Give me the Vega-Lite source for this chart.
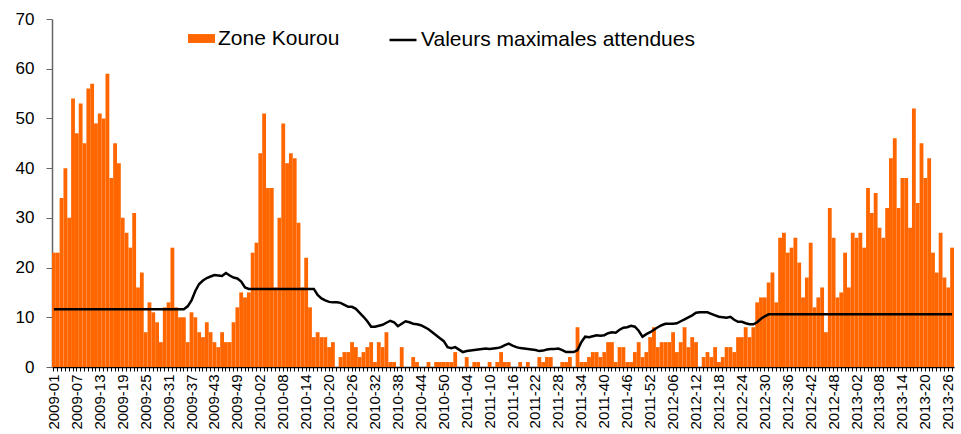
{
  "$schema": "https://vega.github.io/schema/vega-lite/v6.json",
  "autosize": {"type": "none"},
  "padding": {"left": 52, "top": 19, "right": 7, "bottom": 67},
  "width": 902,
  "height": 348,
  "config": {"font": "Liberation Sans", "view": {"stroke": null}},
  "data": {"values": [
    {"w":"2009-01","c":23,"m":11.6},{"w":"2009-02","c":23,"m":11.6},{"w":"2009-03","c":34,"m":11.6},{"w":"2009-04","c":40,"m":11.6},{"w":"2009-05","c":30,"m":11.6},
    {"w":"2009-06","c":54,"m":11.6},{"w":"2009-07","c":47,"m":11.6},{"w":"2009-08","c":53,"m":11.6},{"w":"2009-09","c":45,"m":11.6},{"w":"2009-10","c":56,"m":11.6},
    {"w":"2009-11","c":57,"m":11.6},{"w":"2009-12","c":49,"m":11.6},{"w":"2009-13","c":51,"m":11.6},{"w":"2009-14","c":50,"m":11.6},{"w":"2009-15","c":59,"m":11.6},
    {"w":"2009-16","c":38,"m":11.6},{"w":"2009-17","c":45,"m":11.6},{"w":"2009-18","c":41,"m":11.6},{"w":"2009-19","c":30,"m":11.6},{"w":"2009-20","c":27,"m":11.6},
    {"w":"2009-21","c":24,"m":11.6},{"w":"2009-22","c":31,"m":11.6},{"w":"2009-23","c":16,"m":11.6},{"w":"2009-24","c":19,"m":11.6},{"w":"2009-25","c":7,"m":11.6},
    {"w":"2009-26","c":13,"m":11.6},{"w":"2009-27","c":11,"m":11.6},{"w":"2009-28","c":9,"m":11.6},{"w":"2009-29","c":5,"m":11.6},{"w":"2009-30","c":12,"m":11.6},
    {"w":"2009-31","c":13,"m":11.6},{"w":"2009-32","c":24,"m":11.6},{"w":"2009-33","c":12,"m":11.6},{"w":"2009-34","c":10,"m":11.6},{"w":"2009-35","c":10,"m":11.6},
    {"w":"2009-36","c":5,"m":12.2},{"w":"2009-37","c":11,"m":13.4},{"w":"2009-38","c":10,"m":15.3},{"w":"2009-39","c":7,"m":16.7},{"w":"2009-40","c":6,"m":17.4},
    {"w":"2009-41","c":9,"m":17.9},{"w":"2009-42","c":7,"m":18.2},{"w":"2009-43","c":5,"m":18.5},{"w":"2009-44","c":4,"m":18.4},{"w":"2009-45","c":7,"m":18.3},
    {"w":"2009-46","c":5,"m":18.9},{"w":"2009-47","c":5,"m":18.4},{"w":"2009-48","c":9,"m":18.0},{"w":"2009-49","c":12,"m":17.8},{"w":"2009-50","c":15,"m":17.2},
    {"w":"2009-51","c":14,"m":16.0},{"w":"2009-52","c":15,"m":15.7},{"w":"2009-53","c":23,"m":15.7},
    {"w":"2010-01","c":25,"m":15.7},{"w":"2010-02","c":43,"m":15.7},{"w":"2010-03","c":51,"m":15.7},{"w":"2010-04","c":36,"m":15.7},{"w":"2010-05","c":36,"m":15.7},
    {"w":"2010-06","c":16,"m":15.7},{"w":"2010-07","c":30,"m":15.7},{"w":"2010-08","c":49,"m":15.7},{"w":"2010-09","c":41,"m":15.7},{"w":"2010-10","c":43,"m":15.7},
    {"w":"2010-11","c":42,"m":15.7},{"w":"2010-12","c":29,"m":15.7},{"w":"2010-13","c":16,"m":15.7},{"w":"2010-14","c":22,"m":15.7},{"w":"2010-15","c":12,"m":15.7},
    {"w":"2010-16","c":6,"m":15.7},{"w":"2010-17","c":7,"m":14.5},{"w":"2010-18","c":6,"m":13.8},{"w":"2010-19","c":6,"m":13.4},{"w":"2010-20","c":4,"m":13.1},
    {"w":"2010-21","c":5,"m":13.0},{"w":"2010-22","c":0,"m":13.0},{"w":"2010-23","c":2,"m":12.9},{"w":"2010-24","c":3,"m":12.5},{"w":"2010-25","c":3,"m":12.1},
    {"w":"2010-26","c":5,"m":12.1},{"w":"2010-27","c":4,"m":11.7},{"w":"2010-28","c":2,"m":10.9},{"w":"2010-29","c":3,"m":10.1},{"w":"2010-30","c":4,"m":9.2},
    {"w":"2010-31","c":5,"m":8.1},{"w":"2010-32","c":1,"m":8.1},{"w":"2010-33","c":5,"m":8.3},{"w":"2010-34","c":4,"m":8.5},{"w":"2010-35","c":7,"m":8.9},
    {"w":"2010-36","c":1,"m":9.3},{"w":"2010-37","c":1,"m":9.0},{"w":"2010-38","c":0,"m":8.2},{"w":"2010-39","c":4,"m":8.7},{"w":"2010-40","c":0,"m":9.2},
    {"w":"2010-41","c":0,"m":9.0},{"w":"2010-42","c":2,"m":8.7},{"w":"2010-43","c":1,"m":8.6},{"w":"2010-44","c":0,"m":8.4},{"w":"2010-45","c":0,"m":8.0},
    {"w":"2010-46","c":1,"m":7.6},{"w":"2010-47","c":0,"m":7.0},{"w":"2010-48","c":1,"m":6.4},{"w":"2010-49","c":1,"m":5.8},{"w":"2010-50","c":1,"m":5.2},
    {"w":"2010-51","c":1,"m":4.0},{"w":"2010-52","c":1,"m":3.8},
    {"w":"2011-01","c":3,"m":4.0},{"w":"2011-02","c":0,"m":3.5},{"w":"2011-03","c":0,"m":3.0},{"w":"2011-04","c":2,"m":3.2},{"w":"2011-05","c":0,"m":3.3},
    {"w":"2011-06","c":1,"m":3.4},{"w":"2011-07","c":1,"m":3.5},{"w":"2011-08","c":0,"m":3.6},{"w":"2011-09","c":0,"m":3.7},{"w":"2011-10","c":1,"m":3.6},
    {"w":"2011-11","c":0,"m":3.7},{"w":"2011-12","c":1,"m":3.8},{"w":"2011-13","c":3,"m":4.0},{"w":"2011-14","c":1,"m":4.4},{"w":"2011-15","c":1,"m":4.7},
    {"w":"2011-16","c":0,"m":4.3},{"w":"2011-17","c":0,"m":4.0},{"w":"2011-18","c":1,"m":3.8},{"w":"2011-19","c":0,"m":3.7},{"w":"2011-20","c":1,"m":3.6},
    {"w":"2011-21","c":0,"m":3.5},{"w":"2011-22","c":0,"m":3.4},{"w":"2011-23","c":2,"m":3.2},{"w":"2011-24","c":1,"m":3.3},{"w":"2011-25","c":2,"m":3.5},
    {"w":"2011-26","c":2,"m":3.6},{"w":"2011-27","c":0,"m":3.6},{"w":"2011-28","c":0,"m":3.7},{"w":"2011-29","c":1,"m":3.4},{"w":"2011-30","c":1,"m":3.0},
    {"w":"2011-31","c":2,"m":3.0},{"w":"2011-32","c":0,"m":3.0},{"w":"2011-33","c":8,"m":3.4},{"w":"2011-34","c":1,"m":5.0},{"w":"2011-35","c":1,"m":6.1},
    {"w":"2011-36","c":2,"m":6.0},{"w":"2011-37","c":3,"m":6.2},{"w":"2011-38","c":3,"m":6.4},{"w":"2011-39","c":2,"m":6.3},{"w":"2011-40","c":3,"m":6.4},
    {"w":"2011-41","c":5,"m":6.8},{"w":"2011-42","c":5,"m":7.0},{"w":"2011-43","c":1,"m":6.9},{"w":"2011-44","c":4,"m":7.5},{"w":"2011-45","c":4,"m":7.9},
    {"w":"2011-46","c":1,"m":8.0},{"w":"2011-47","c":1,"m":8.3},{"w":"2011-48","c":3,"m":8.1},{"w":"2011-49","c":5,"m":7.3},{"w":"2011-50","c":2,"m":6.1},
    {"w":"2011-51","c":3,"m":6.6},{"w":"2011-52","c":6,"m":7.0},
    {"w":"2012-01","c":8,"m":7.5},{"w":"2012-02","c":4,"m":8.0},{"w":"2012-03","c":5,"m":8.4},{"w":"2012-04","c":5,"m":8.7},{"w":"2012-05","c":5,"m":8.7},
    {"w":"2012-06","c":7,"m":8.7},{"w":"2012-07","c":3,"m":8.8},{"w":"2012-08","c":5,"m":9.2},{"w":"2012-09","c":8,"m":9.6},{"w":"2012-10","c":4,"m":10.0},
    {"w":"2012-11","c":6,"m":10.4},{"w":"2012-12","c":5,"m":10.9},{"w":"2012-13","c":0,"m":11.0},{"w":"2012-14","c":2,"m":11.0},{"w":"2012-15","c":3,"m":11.0},
    {"w":"2012-16","c":2,"m":10.7},{"w":"2012-17","c":4,"m":10.4},{"w":"2012-18","c":1,"m":10.1},{"w":"2012-19","c":2,"m":10.0},{"w":"2012-20","c":4,"m":9.9},
    {"w":"2012-21","c":4,"m":10.1},{"w":"2012-22","c":3,"m":9.5},{"w":"2012-23","c":6,"m":9.1},{"w":"2012-24","c":6,"m":9.1},{"w":"2012-25","c":8,"m":8.8},
    {"w":"2012-26","c":6,"m":8.6},{"w":"2012-27","c":8,"m":8.6},{"w":"2012-28","c":13,"m":9.0},{"w":"2012-29","c":14,"m":9.7},{"w":"2012-30","c":14,"m":10.2},
    {"w":"2012-31","c":17,"m":10.6},{"w":"2012-32","c":19,"m":10.6},{"w":"2012-33","c":13,"m":10.6},{"w":"2012-34","c":26,"m":10.6},{"w":"2012-35","c":27,"m":10.6},
    {"w":"2012-36","c":23,"m":10.6},{"w":"2012-37","c":24,"m":10.6},{"w":"2012-38","c":26,"m":10.6},{"w":"2012-39","c":21,"m":10.6},{"w":"2012-40","c":14,"m":10.6},
    {"w":"2012-41","c":18,"m":10.6},{"w":"2012-42","c":25,"m":10.6},{"w":"2012-43","c":12,"m":10.6},{"w":"2012-44","c":14,"m":10.6},{"w":"2012-45","c":16,"m":10.6},
    {"w":"2012-46","c":7,"m":10.6},{"w":"2012-47","c":32,"m":10.6},{"w":"2012-48","c":26,"m":10.6},{"w":"2012-49","c":14,"m":10.6},{"w":"2012-50","c":15,"m":10.6},
    {"w":"2012-51","c":23,"m":10.6},{"w":"2012-52","c":16,"m":10.6},
    {"w":"2013-01","c":27,"m":10.6},{"w":"2013-02","c":26,"m":10.6},{"w":"2013-03","c":27,"m":10.6},{"w":"2013-04","c":24,"m":10.6},{"w":"2013-05","c":36,"m":10.6},
    {"w":"2013-06","c":31,"m":10.6},{"w":"2013-07","c":35,"m":10.6},{"w":"2013-08","c":28,"m":10.6},{"w":"2013-09","c":26,"m":10.6},{"w":"2013-10","c":32,"m":10.6},
    {"w":"2013-11","c":42,"m":10.6},{"w":"2013-12","c":46,"m":10.6},{"w":"2013-13","c":32,"m":10.6},{"w":"2013-14","c":38,"m":10.6},{"w":"2013-15","c":38,"m":10.6},
    {"w":"2013-16","c":28,"m":10.6},{"w":"2013-17","c":52,"m":10.6},{"w":"2013-18","c":33,"m":10.6},{"w":"2013-19","c":45,"m":10.6},{"w":"2013-20","c":38,"m":10.6},
    {"w":"2013-21","c":42,"m":10.6},{"w":"2013-22","c":23,"m":10.6},{"w":"2013-23","c":19,"m":10.6},{"w":"2013-24","c":27,"m":10.6},{"w":"2013-25","c":18,"m":10.6},
    {"w":"2013-26","c":16,"m":10.6},{"w":"2013-27","c":24,"m":10.6}
  ]},
  "encoding": {
    "x": {
      "field": "w", "type": "ordinal", "sort": null,
      "scale": {"paddingInner": 0, "paddingOuter": 0},
      "axis": {
        "title": null,
        "labelAngle": 270,
        "labelFontSize": 15,
        "labelColor": "#000000",
        "labelPadding": 3,
        "labelOverlap": false,
        "labelExpr": "indexof(['2009-01','2009-07','2009-13','2009-19','2009-25','2009-31','2009-37','2009-43','2009-49','2010-02','2010-08','2010-14','2010-20','2010-26','2010-32','2010-38','2010-44','2010-50','2011-04','2011-10','2011-16','2011-22','2011-28','2011-34','2011-40','2011-46','2011-52','2012-06','2012-12','2012-18','2012-24','2012-30','2012-36','2012-42','2012-48','2013-02','2013-08','2013-14','2013-20','2013-26'], datum.value) >= 0 ? datum.value : ''",
        "tickSize": 4,
        "tickColor": "#000000",
        "domainColor": "#000000",
        "domainWidth": 1.5
      }
    }
  },
  "layer": [
    {
      "mark": {"type": "bar"},
      "encoding": {
        "y": {
          "field": "c", "type": "quantitative",
          "scale": {"domain": [0, 70], "nice": false},
          "axis": {
            "title": null,
            "values": [0, 10, 20, 30, 40, 50, 60, 70],
            "grid": false,
            "labelFontSize": 17,
            "labelColor": "#000000",
            "labelPadding": 12,
            "tickSize": 6,
            "tickColor": "#666666",
            "domainColor": "#666666",
            "domainWidth": 1.5
          }
        },
        "color": {
          "datum": "Zone Kourou", "type": "nominal",
          "scale": {"range": ["#ff6600"]},
          "legend": {
            "orient": "none", "legendX": 136, "legendY": 6, "title": null, "padding": 0,
            "symbolType": "M-1,-0.33H1V0.33H-1Z", "symbolSize": 729, "symbolStrokeWidth": 0,
            "symbolOpacity": 1,
            "labelFontSize": 21, "labelColor": "#000000", "labelOffset": 3, "labelLimit": 0
          }
        }
      }
    },
    {
      "mark": {"type": "line", "strokeWidth": 2.5},
      "encoding": {
        "y": {"field": "m", "type": "quantitative"},
        "stroke": {
          "datum": "Valeurs maximales attendues", "type": "nominal",
          "scale": {"range": ["#000000"]},
          "legend": {
            "orient": "none", "legendX": 336, "legendY": 6, "title": null, "padding": 0,
            "symbolType": "stroke", "symbolSize": 729, "symbolStrokeWidth": 2.5,
            "labelFontSize": 21, "labelColor": "#000000", "labelOffset": 3, "labelLimit": 0
          }
        }
      }
    }
  ]
}
